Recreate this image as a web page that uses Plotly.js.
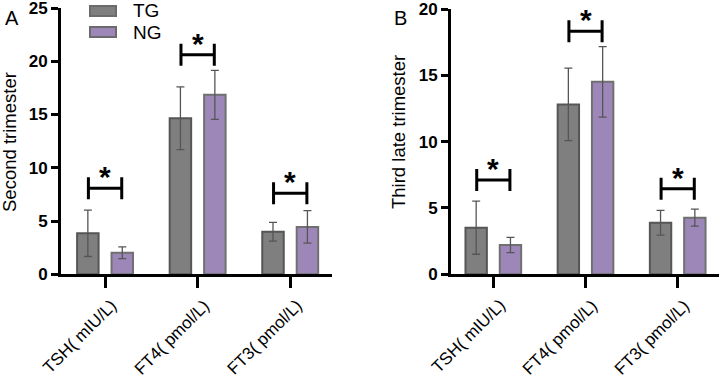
<!DOCTYPE html>
<html>
<head>
<meta charset="utf-8">
<script src="https://cdn.plot.ly/plotly-3.0.1.min.js"></script>
<style>
  html, body { margin: 0; padding: 0; background: #fff; }
  #chart { width: 722px; height: 378px; }
</style>
</head>
<body>
<div id="chart"></div>
<script>
// Thyroid function by group, second and third (late) trimester
const categories = ['TSH( mIU/L)', 'FT4( pmol/L)', 'FT3( pmol/L)'];
const groupNames = ['TG', 'NG'];

// Second trimester: mean and SD
const tgSecond = [3.85, 14.65, 4.0];
const tgSecondSd = [2.18, 2.95, 0.88];
const ngSecond = [2.03, 16.85, 4.45];
const ngSecondSd = [0.55, 2.3, 1.53];

// Third late trimester: mean and SD
const tgThird = [3.51, 12.81, 3.89];
const tgThirdSd = [2.0, 2.73, 0.93];
const ngThird = [2.21, 14.51, 4.27];
const ngThirdSd = [0.57, 2.66, 0.64];

// Height of the significance brackets
const sigSecond = [8.07, 20.6, 7.6];
const sigThird = [7.1, 18.33, 6.45];
const sigMark = '*';

// Y tick values for each panel
const yTicksSecond = [0, 5, 10, 15, 20, 25];
const yTicksThird = [0, 5, 10, 15, 20];

const W = 722, H = 378;
const px = v => v / W;
const py = v => 1 - v / H;

const FONT = 'Liberation Sans, Arial, sans-serif';
const TG_FILL = '#7f7f7f', TG_LINE = '#565656';
const NG_FILL = '#9d87b8', NG_LINE = '#707070';

function barTrace(name, vals, sd, fill, line, xa, ya) {
  return {
    type: 'bar', name: name, x: categories, y: vals,
    xaxis: xa, yaxis: ya, showlegend: false,
    marker: { color: fill, line: { color: line, width: 2 } },
    error_y: { type: 'data', array: sd, visible: true, color: '#555555', thickness: 1.3, width: 4 },
    hoverinfo: 'skip'
  };
}

const data = [
  barTrace(groupNames[0], tgSecond, tgSecondSd, TG_FILL, TG_LINE, 'x', 'y'),
  barTrace(groupNames[1], ngSecond, ngSecondSd, NG_FILL, NG_LINE, 'x', 'y'),
  barTrace(groupNames[0], tgThird, tgThirdSd, TG_FILL, TG_LINE, 'x2', 'y2'),
  barTrace(groupNames[1], ngThird, ngThirdSd, NG_FILL, NG_LINE, 'x2', 'y2')
];

// category labels are drawn as rotated annotations below each tick
const xCommon = {
  type: 'category', showgrid: false, zeroline: false,
  showline: true, linecolor: '#000', linewidth: 3,
  ticks: 'outside', ticklen: 11, tickwidth: 3, tickcolor: '#000',
  showticklabels: false,
  fixedrange: true
};
const yCommon = {
  showgrid: false, zeroline: false,
  showline: true, linecolor: '#000', linewidth: 3,
  ticks: 'outside', ticklen: 7, tickwidth: 3, tickcolor: '#000',
  tickmode: 'array', ticklabeloverflow: 'allow',
  tickfont: { family: FONT, size: 17, color: '#000' },
  fixedrange: true
};
const boldTicks = vals => vals.map(v => '<b>' + v + '</b>');

const shapes = [];
const annotations = [];

// significance brackets with stars
function addBrackets(levels, xref, yref) {
  levels.forEach((lv, i) => {
    const l = i - 0.18, r = i + 0.18;
    shapes.push({ type: 'line', xref, yref, x0: l, x1: r, y0: lv, y1: lv,
                  line: { color: '#000', width: 3 } });
    [l, r].forEach(xv => {
      shapes.push({ type: 'line', xref, yref, x0: xv, x1: xv,
                    ysizemode: 'pixel', yanchor: lv, y0: -11, y1: 11,
                    line: { color: '#000', width: 3 } });
    });
    annotations.push({ xref, yref, x: i, y: lv, text: '<b>' + sigMark + '</b>', showarrow: false,
                       yanchor: 'bottom', yshift: -7,
                       font: { family: FONT, size: 30, color: '#000' } });
  });
}
addBrackets(sigSecond, 'x', 'y');
addBrackets(sigThird, 'x2', 'y2');

// rotated category labels
function addCategoryLabels(xref, yref) {
  categories.forEach((c, i) => {
    annotations.push({ xref, yref, x: i, y: 0, text: c, showarrow: false,
                       textangle: -45, xanchor: 'right', yanchor: 'top',
                       xshift: 18, yshift: -19,
                       font: { family: FONT, size: 17, color: '#000' } });
  });
}
addCategoryLabels('x', 'y');
addCategoryLabels('x2', 'y2');

// legend drawn as swatches with labels
[[TG_FILL, 6, 16], [NG_FILL, 27, 37]].forEach((s, k) => {
  shapes.push({ type: 'rect', xref: 'paper', yref: 'paper',
                x0: px(90), x1: px(116), y0: py(s[2]), y1: py(s[1]),
                fillcolor: s[0], line: { color: '#6b6b6b', width: 2 } });
  annotations.push({ xref: 'paper', yref: 'paper', x: px(131), y: py((s[1] + s[2]) / 2),
                     xanchor: 'left', yanchor: 'middle', text: groupNames[k], showarrow: false,
                     font: { family: FONT, size: 19, color: '#000' } });
});

// panel letters and axis titles
annotations.push(
  { xref: 'paper', yref: 'paper', x: px(12), y: py(18), text: 'A', showarrow: false,
    xanchor: 'center', yanchor: 'middle', font: { family: FONT, size: 20, color: '#000' } },
  { xref: 'paper', yref: 'paper', x: px(400), y: py(18), text: 'B', showarrow: false,
    xanchor: 'center', yanchor: 'middle', font: { family: FONT, size: 20, color: '#000' } },
  { xref: 'paper', yref: 'paper', x: px(10), y: py(142), text: 'Second trimester', showarrow: false,
    textangle: -90, xanchor: 'center', yanchor: 'middle', font: { family: FONT, size: 18.5, color: '#000' } },
  { xref: 'paper', yref: 'paper', x: px(398), y: py(132), text: 'Third late trimester', showarrow: false,
    textangle: -90, xanchor: 'center', yanchor: 'middle', font: { family: FONT, size: 18.5, color: '#000' } }
);

const layout = {
  width: W, height: H,
  margin: { l: 0, r: 0, t: 0, b: 0 },
  paper_bgcolor: '#fff', plot_bgcolor: '#fff',
  barmode: 'group', bargap: 0.256, bargroupgap: 0.376,
  showlegend: false,
  xaxis: Object.assign({}, xCommon, { domain: [px(61), px(331.5)], range: [-0.476, 2.446], anchor: 'y' }),
  yaxis: Object.assign({}, yCommon, { domain: [py(274.3), py(8)], range: [0, 25.0001],
    tickvals: yTicksSecond, ticktext: boldTicks(yTicksSecond), anchor: 'x' }),
  xaxis2: Object.assign({}, xCommon, { domain: [px(451), px(719)], range: [-0.459, 2.448], anchor: 'y2' }),
  yaxis2: Object.assign({}, yCommon, { domain: [py(274.3), py(9)], range: [0, 20.0001],
    tickvals: yTicksThird, ticktext: boldTicks(yTicksThird), anchor: 'x2' }),
  shapes: shapes,
  annotations: annotations
};

Plotly.newPlot('chart', data, layout, { displayModeBar: false, staticPlot: true });
</script>
</body>
</html>
